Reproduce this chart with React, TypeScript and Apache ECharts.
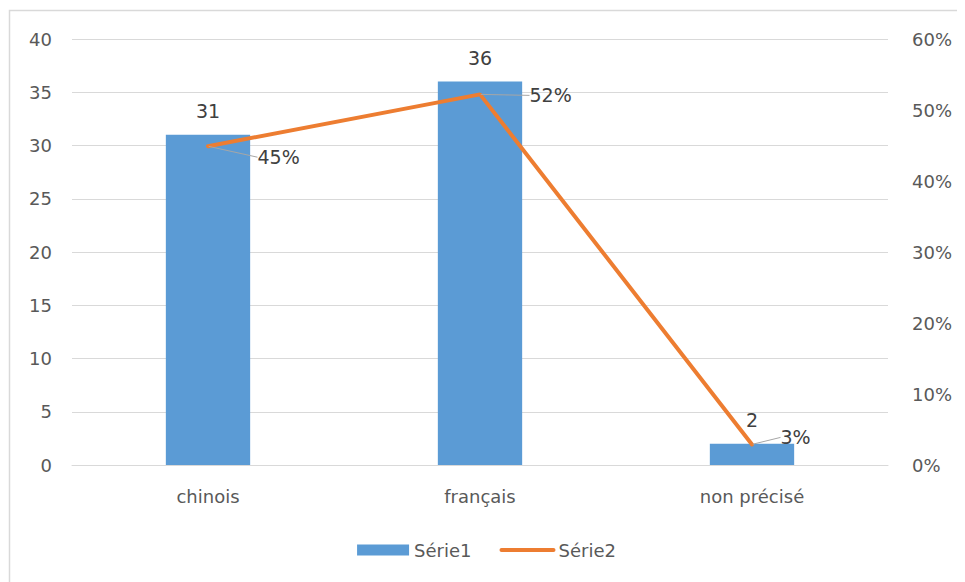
import React, { useEffect, useRef } from "react";
import * as echarts from "echarts";

const categories = ["chinois", "français", "non précisé"];
const serie1 = [31, 36, 2];
const serie2 = [0.449, 0.522, 0.029];
const leftTicks = { min: 0, max: 40, interval: 5 };
const rightTicks = { min: 0, max: 0.6, interval: 0.1 };

const FONT = "DejaVu Sans";
const TXT = "#595959";

export default function App() {
  const ref = useRef<HTMLDivElement>(null);
  useEffect(() => {
    const chart = echarts.init(ref.current!, undefined, { renderer: "svg" });
    const offsets = [
      [44, 11],
      [44, 1],
      [23, -7],
    ];
    chart.setOption({
      animation: false,
      textStyle: { fontFamily: FONT },
      graphic: [
        {
          type: "rect",
          shape: { x: 1.5, y: 2.5, width: 1200, height: 1200 },
          style: { fill: "none", stroke: "#D9D9D9", lineWidth: 1.5 },
          silent: true,
        },
      ],
      grid: { left: 64, right: 77, top: 31, height: 426 },
      legend: {
        bottom: 18,
        left: "center",
        itemWidth: 52,
        itemHeight: 11,
        itemGap: 28,
        textStyle: { color: TXT, fontSize: 18, fontFamily: FONT },
        data: [
          { name: "Série1", icon: "rect" },
          {
            name: "Série2",
            itemStyle: { opacity: 0 },
            lineStyle: { width: 4, cap: "round", color: "#ED7D31" },
          },
        ],
      },
      xAxis: {
        type: "category",
        data: categories,
        axisLine: { show: true, lineStyle: { color: "#D9D9D9", width: 1 } },
        axisTick: { show: false },
        axisLabel: { color: TXT, fontSize: 18, margin: 22, fontFamily: FONT },
      },
      yAxis: [
        {
          type: "value",
          ...leftTicks,
          axisLine: { show: false },
          axisTick: { show: false },
          splitLine: { lineStyle: { color: "#D9D9D9", width: 1 } },
          axisLabel: { color: TXT, fontSize: 18, margin: 20, fontFamily: FONT },
        },
        {
          type: "value",
          ...rightTicks,
          axisLine: { show: false },
          axisTick: { show: false },
          splitLine: { show: false },
          axisLabel: {
            color: TXT,
            fontSize: 18,
            margin: 24,
            fontFamily: FONT,
            formatter: (v: number) => Math.round(v * 100) + "%",
          },
        },
      ],
      series: [
        {
          name: "Série1",
          type: "bar",
          data: serie1,
          barWidth: "31%",
          itemStyle: { color: "#5B9BD5" },
          label: {
            show: true,
            position: "top",
            distance: 14,
            color: "#404040",
            fontSize: 19,
            fontFamily: FONT,
          },
        },
        {
          name: "Série2",
          type: "line",
          yAxisIndex: 1,
          data: serie2,
          symbol: "circle",
          symbolSize: 1,
          showSymbol: true,
          lineStyle: { color: "#ED7D31", width: 4, cap: "round" },
          itemStyle: { color: "#ED7D31" },
          label: {
            show: true,
            position: "right",
            color: "#404040",
            fontSize: 19,
            fontFamily: FONT,
            formatter: (p: any) => Math.round(p.value * 100) + "%",
          },
          labelLayout: (p: any) => ({
            dx: offsets[p.dataIndex][0],
            dy: offsets[p.dataIndex][1],
          }),
          labelLine: {
            show: true,
            lineStyle: { color: "#A6A6A6", width: 1 },
          },
        },
      ],
    });
    return () => chart.dispose();
  }, []);
  return <div ref={ref} style={{ width: 957, height: 574 }} />;
}
